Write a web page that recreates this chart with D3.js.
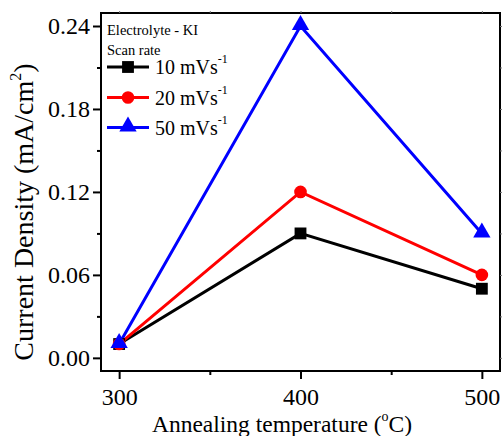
<!DOCTYPE html>
<html><head><meta charset="utf-8">
<script src="https://cdn.jsdelivr.net/npm/d3@7"></script>
<style>body{margin:0;background:#fff}svg{display:block}</style>
</head><body><svg id="c" width="502" height="436" font-family="'Liberation Serif', 'Times New Roman', Times, 'DejaVu Serif', serif"></svg>
<script>
const temperatures = [300, 400, 500];
const seriesNames = ["10 mVs", "20 mVs", "50 mVs"];
const series10 = [0.01, 0.09, 0.05];
const series20 = [0.01, 0.12, 0.06];
const series50 = [0.01, 0.24, 0.09];
const seriesColors = ["#000000", "#ff0000", "#0000ff"];
const seriesSymbols = ["square", "circle", "triangle"];
const yTicks = [0.00, 0.06, 0.12, 0.18, 0.24];
const yMinor = [0.03, 0.09, 0.15, 0.21];
const xTicks = [300, 400, 500];
const xMinor = [350, 450];

const FONT = "'Liberation Serif', 'Times New Roman', Times, 'DejaVu Serif', serif";
const svg = d3.select("#c");
const L = 101, R = 500, T = 13, B = 371;
const x = d3.scaleLinear().domain([290, 510]).range([L, R]);
const y = d3.scaleLinear().domain([-0.0095, 0.2494]).range([B, T]);

svg.append("rect").attr("x", L).attr("y", T).attr("width", R - L).attr("height", B - T)
  .attr("fill", "none").attr("stroke", "#000").attr("stroke-width", 2);

const yAx = svg.append("g").attr("transform", `translate(${L},0)`)
  .call(d3.axisLeft(y).tickValues(yTicks).tickFormat(d3.format(".2f")).tickSize(8).tickPadding(3));
const xAx = svg.append("g").attr("transform", `translate(0,${B})`)
  .call(d3.axisBottom(x).tickValues(xTicks).tickFormat(d3.format("d")).tickSize(8).tickPadding(9));
[yAx, xAx].forEach(g => {
  g.attr("font-family", FONT).attr("font-size", 24);
  g.select(".domain").remove();
  g.selectAll("line").attr("stroke-width", 2);
  g.selectAll("text").attr("fill", "#000");
});
svg.append("g").attr("transform", `translate(${L},0)`)
  .call(d3.axisLeft(y).tickValues(yMinor).tickFormat("").tickSize(4))
  .call(g => { g.select(".domain").remove(); g.selectAll("line").attr("stroke-width", 2); });
svg.append("g").attr("transform", `translate(0,${B})`)
  .call(d3.axisBottom(x).tickValues(xMinor).tickFormat("").tickSize(4))
  .call(g => { g.select(".domain").remove(); g.selectAll("line").attr("stroke-width", 2); });
svg.append("g").attr("transform", `translate(0,${T})`)
  .call(d3.axisTop(x).tickValues(xTicks.concat(xMinor)).tickFormat("").tickSize(2))
  .call(g => { g.select(".domain").remove(); g.selectAll("line").attr("stroke", "#777"); });
svg.append("g").attr("transform", `translate(${R},0)`)
  .call(d3.axisRight(y).tickValues(yTicks.concat(yMinor)).tickFormat("").tickSize(2))
  .call(g => { g.select(".domain").remove(); g.selectAll("line").attr("stroke", "#777"); });

const allSeries = [series10, series20, series50];
const symMap = { square: d3.symbolSquare, circle: d3.symbolCircle, triangle: d3.symbolTriangle };
const symSize = { square: 140, circle: 125, triangle: 130 };
const line = d3.line().x((d, i) => x(temperatures[i])).y(d => y(d));
allSeries.forEach((s, k) => {
  svg.append("path").datum(s).attr("d", line).attr("fill", "none")
    .attr("stroke", seriesColors[k]).attr("stroke-width", 3);
});
allSeries.forEach((s, k) => {
  const sym = d3.symbol().type(symMap[seriesSymbols[k]]).size(symSize[seriesSymbols[k]]);
  svg.selectAll(null).data(s).enter().append("path")
    .attr("d", sym)
    .attr("transform", (d, i) => `translate(${x(temperatures[i])},${y(d) + (seriesSymbols[k] === "triangle" ? -1 : 0)})`)
    .attr("fill", seriesColors[k]);
});

svg.append("text").attr("x", 107).attr("y", 35).attr("font-size", 14.5).text("Electrolyte - KI");
svg.append("text").attr("x", 107).attr("y", 55).attr("font-size", 14.5).text("Scan rate");
const legY = [67, 97.5, 127.5];
seriesNames.forEach((n, k) => {
  svg.append("line").attr("x1", 107).attr("x2", 149).attr("y1", legY[k]).attr("y2", legY[k])
    .attr("stroke", seriesColors[k]).attr("stroke-width", 3);
  const sym = d3.symbol().type(symMap[seriesSymbols[k]]).size(symSize[seriesSymbols[k]]);
  svg.append("path").attr("d", sym).attr("transform", `translate(128,${legY[k] + (k === 2 ? -1 : 0)})`).attr("fill", seriesColors[k]);
  const t = svg.append("text").attr("x", 155).attr("y", legY[k] + 7).attr("font-size", 20);
  t.append("tspan").text(n);
  t.append("tspan").attr("font-size", 12).attr("dy", -11).text("-1");
});

const yl = svg.append("text").attr("transform", "translate(33,212) rotate(-90)")
  .attr("text-anchor", "middle").attr("font-size", 28);
yl.append("tspan").text("Current Density (mA/cm");
yl.append("tspan").attr("font-size", 16).attr("dy", -12).text("2");
yl.append("tspan").attr("dy", 12).text(")");

const xl = svg.append("text").attr("x", 282).attr("y", 432).attr("text-anchor", "middle").attr("font-size", 23.5);
xl.append("tspan").text("Annealing temperature (");
xl.append("tspan").attr("font-size", 14).attr("dy", -11).text("o");
xl.append("tspan").attr("dy", 11).text("C)");
</script></body></html>
